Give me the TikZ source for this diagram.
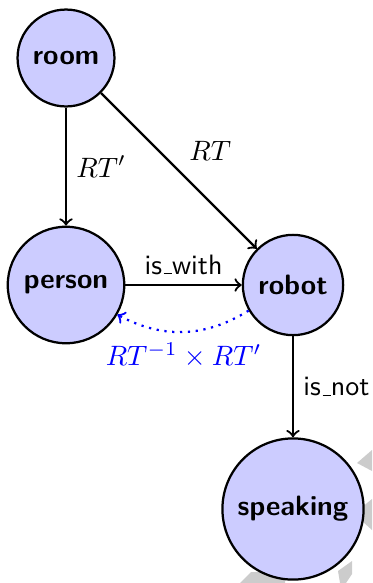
\documentclass[tikz,border=0pt]{standalone}
\usetikzlibrary{arrows}
% underscore drawn as a thin rule on the baseline
\newcommand\lowrule{\leavevmode\kern.06em\vbox{\hrule width.3em}}
\begin{document}
\begin{tikzpicture}[x=0.357pt,y=-0.357pt,
    state/.style={circle,draw=black,thick,fill=blue!20,inner sep=0pt,
                  font=\sffamily\bfseries},
    link/.style={->,thick},
    derived/.style={->,thick,dotted,blue},
    wm/.style={fill=black!20,draw=none}]
  \useasboundingbox (0,0) rectangle (372,583);

  % faint background marks
  \fill[wm] (357,463) -- (372,450) -- (372,471) -- cycle;
  \fill[wm] (361,508) -- (372,499) -- (372,530) -- (362,521) -- cycle;
  \fill[wm] (338,571) -- (352,561) -- (352,574) -- (346,583) -- (340,583) -- cycle;
  \fill[wm] (240,583) -- (251,572) -- (285,572) -- (285,583) -- cycle;

  % states
  \node[state,minimum size=34.6pt] (room)     at (66,58)   {room};
  \node[state,minimum size=41.6pt] (person)   at (66,285)  {person};
  \node[state,minimum size=35.8pt] (robot)    at (293,285) {robot};
  \node[state,minimum size=50.4pt] (speaking) at (293,509) {speaking};

  % relations
  \draw[link] (room) -- node[right] {$RT'$} (person);
  \draw[link] (room) -- node[above right] {$RT$} (robot);
  \draw[link] (person) -- node[above,font=\sffamily] {is\lowrule with} (robot);
  \draw[link] (robot) -- node[right,font=\sffamily] {is\lowrule not} (speaking);
  \draw[derived] (robot) to[bend left=30]
      node[below] {$RT^{-1}\times RT'$} (person);
\end{tikzpicture}
\end{document}
